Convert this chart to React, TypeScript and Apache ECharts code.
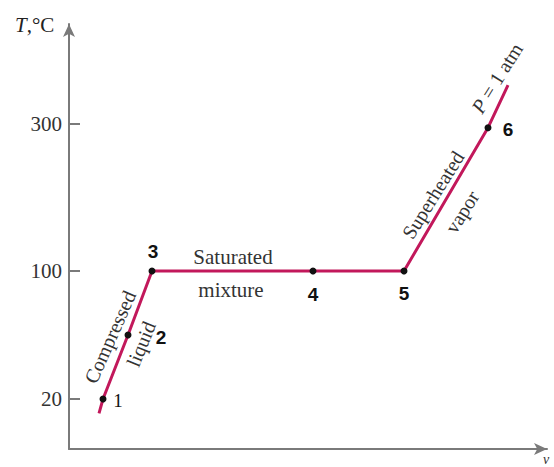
import React, { useEffect, useRef } from "react";
import * as echarts from "echarts";

// Specific volume v (arbitrary schematic units) and temperature T (°C) along the P = 1 atm line
const volumes = [30, 34, 59, 83, 244, 335, 419, 439];
const temperatures = [11, 20, 60, 100, 100, 100, 295, 353];
const pointNames = ["", "1", "2", "3", "4", "5", "6", ""];
const tickTemps = [20, 100, 300];
// Schematic (non-linear) temperature axis: knots mapping T -> axis units
const knotTemps = [20, 100, 300];
const knotUnits = [50, 178, 325];

function tToUnit(t: number): number {
  const n = knotTemps.length;
  let i = 0;
  if (t <= knotTemps[0]) i = 0;
  else if (t >= knotTemps[n - 1]) i = n - 2;
  else {
    while (i < n - 2 && t > knotTemps[i + 1]) i++;
  }
  const t0 = knotTemps[i], t1 = knotTemps[i + 1];
  const u0 = knotUnits[i], u1 = knotUnits[i + 1];
  return u0 + ((t - t0) * (u1 - u0)) / (t1 - t0);
}

const LINE = "#c2185b";
const SERIF = "'Liberation Serif', 'DejaVu Serif', serif";
const SANS = "'Liberation Sans', Arial, sans-serif";

const labelStyles: Record<string, any> = {
  "1": { offset: [15, 1], fontFamily: SERIF, fontWeight: "normal", fontSize: 19 },
  "2": { offset: [33, 2], fontFamily: SANS, fontWeight: "bold", fontSize: 19 },
  "3": { offset: [1, -20], fontFamily: SANS, fontWeight: "bold", fontSize: 19 },
  "4": { offset: [0, 23], fontFamily: SANS, fontWeight: "bold", fontSize: 19 },
  "5": { offset: [0, 22], fontFamily: SANS, fontWeight: "bold", fontSize: 19 },
  "6": { offset: [20, 2], fontFamily: SANS, fontWeight: "bold", fontSize: 19 },
};

export default function App() {
  const ref = useRef<HTMLDivElement>(null);
  useEffect(() => {
    if (!ref.current) return;
    const chart = echarts.init(ref.current, null, { renderer: "svg" });
    const data = volumes.map((v, i) => {
      const name = pointNames[i];
      const item: any = { value: [v, tToUnit(temperatures[i])], name };
      if (!name) {
        item.symbol = "none";
        item.label = { show: false };
      } else {
        const s = labelStyles[name];
        item.label = {
          show: true,
          position: "inside",
          formatter: name,
          offset: s.offset,
          fontFamily: s.fontFamily,
          fontWeight: s.fontWeight,
          fontSize: s.fontSize,
          color: "#111",
        };
      }
      return item;
    });
    const tickUnits = tickTemps.map(tToUnit);
    const unitToLabel: Record<string, string> = {};
    tickUnits.forEach((u, i) => (unitToLabel[u.toFixed(3)] = String(tickTemps[i])));

    const textStyle = (extra: any) => ({
      fontFamily: SERIF,
      fontSize: 20,
      fill: "#333",
      align: "center",
      verticalAlign: "middle",
      ...extra,
    });
    const deg = Math.PI / 180;

    chart.setOption({
      animation: false,
      backgroundColor: "#fff",
      grid: { left: 69, right: 7, top: 24, bottom: 18, containLabel: false },
      xAxis: {
        type: "value",
        min: 0,
        max: 478,
        axisLine: {
          show: true,
          symbol: ["none", "arrow"],
          symbolSize: [9, 13],
          lineStyle: { color: "#7a7a7a", width: 2 },
        },
        axisTick: { show: false },
        axisLabel: { show: false },
        splitLine: { show: false },
      },
      yAxis: {
        type: "value",
        min: 0,
        max: 425,
        axisLine: {
          show: true,
          symbol: ["none", "arrow"],
          symbolSize: [9, 13],
          lineStyle: { color: "#7a7a7a", width: 2 },
        },
        axisTick: {
          show: true,
          inside: true,
          length: 11,
          customValues: tickUnits,
          lineStyle: { color: "#7a7a7a", width: 2 },
        },
        axisLabel: {
          show: true,
          customValues: tickUnits,
          margin: 7,
          fontFamily: SERIF,
          fontSize: 21,
          color: "#333",
          formatter: (val: number) => unitToLabel[val.toFixed(3)] ?? "",
        },
        splitLine: { show: false },
      },
      series: [
        {
          type: "line",
          data,
          symbol: "circle",
          symbolSize: 7,
          itemStyle: { color: "#111" },
          lineStyle: { color: LINE, width: 3 },
          z: 3,
        },
      ],
      graphic: [
        {
          type: "text",
          x: 15,
          y: 25,
          style: {
            text: "{i|T},°C",
            fontFamily: SERIF,
            fontSize: 21,
            fill: "#222",
            align: "left",
            verticalAlign: "middle",
            rich: { i: { fontStyle: "italic", fontFamily: SERIF, fontSize: 21, fill: "#222" } },
          },
        },
        {
          type: "text",
          x: 546,
          y: 459,
          style: textStyle({ text: "v", fontStyle: "italic", fontSize: 14 }),
        },
        { type: "text", x: 233, y: 257, style: textStyle({ text: "Saturated", fontSize: 21 }) },
        { type: "text", x: 231, y: 290, style: textStyle({ text: "mixture", fontSize: 21 }) },
        { type: "text", x: 110, y: 337, rotation: 66 * deg, style: textStyle({ text: "Compressed" }) },
        { type: "text", x: 141, y: 344, rotation: 68 * deg, style: textStyle({ text: "liquid" }) },
        { type: "text", x: 433, y: 195, rotation: 58 * deg, style: textStyle({ text: "Superheated" }) },
        { type: "text", x: 462, y: 212, rotation: 58 * deg, style: textStyle({ text: "vapor" }) },
        {
          type: "text",
          x: 497,
          y: 78,
          rotation: 58 * deg,
          style: textStyle({
            text: "{i|P} = 1 atm",
            rich: { i: { fontStyle: "italic", fontFamily: SERIF, fontSize: 20, fill: "#333" } },
          }),
        },
      ],
    });
    return () => chart.dispose();
  }, []);
  return <div ref={ref} style={{ width: 554, height: 467, position: "absolute", left: 0, top: 0 }} />;
}
